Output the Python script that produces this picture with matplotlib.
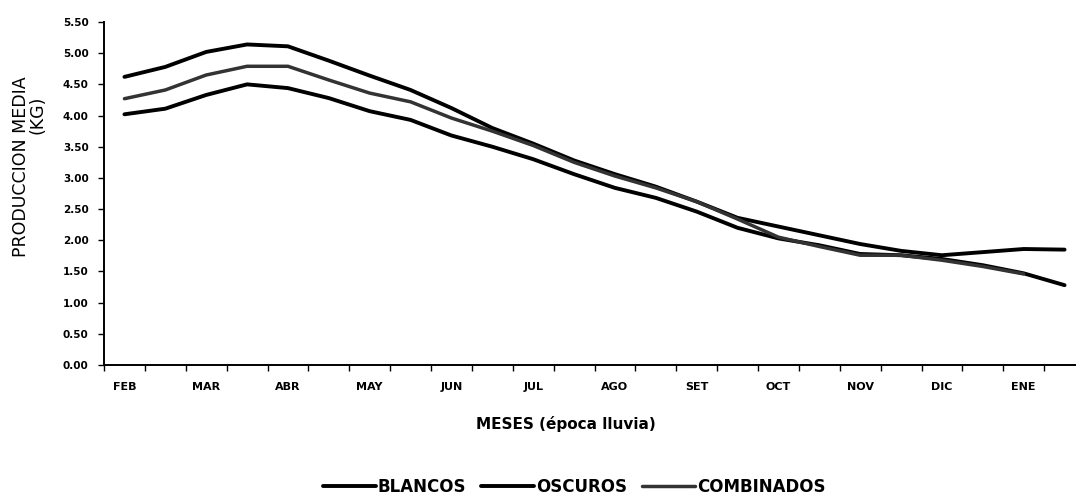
import numpy as np
import matplotlib
matplotlib.use("Agg")
import matplotlib.pyplot as plt
from matplotlib.ticker import FixedLocator, FuncFormatter

# Half-month sampling points across the rainy season (FEB .. ENE)
meses = ["FEB", "MAR", "ABR", "MAY", "JUN", "JUL", "AGO", "SET", "OCT", "NOV", "DIC", "ENE"]

blancos = [4.62, 4.78, 5.02, 5.14, 5.11, 4.88, 4.64, 4.41, 4.12, 3.80, 3.55, 3.28,
           3.06, 2.86, 2.62, 2.36, 2.22, 2.08, 1.94, 1.83, 1.76, 1.81, 1.86, 1.85]
oscuros = [4.02, 4.11, 4.33, 4.50, 4.44, 4.28, 4.07, 3.93, 3.68, 3.50, 3.30, 3.06,
           2.84, 2.68, 2.46, 2.20, 2.03, 1.92, 1.78, 1.76, 1.70, 1.60, 1.47, 1.28]
combinados = [4.27, 4.41, 4.65, 4.79, 4.79, 4.57, 4.36, 4.22, 3.96, 3.75, 3.52, 3.25,
              3.03, 2.84, 2.62, 2.34, 2.05, 1.90, 1.76, 1.76, 1.68, 1.58, 1.46]

y_ticks = [0.0, 0.5, 1.0, 1.5, 2.0, 2.5, 3.0, 3.5, 4.0, 4.5, 5.0, 5.5]

plt.rcParams["font.family"] = ["DejaVu Sans"]

W, H = 1076, 499
fig = plt.figure(figsize=(W / 100, H / 100), dpi=100)
fig.patch.set_facecolor("white")

# axes: left spine at x=104px, baseline at y=365px, top at y=22px,
# category axis runs slightly past the right edge of the figure
left, right = 104, 1085
bottom, top = 365, 22
ax = fig.add_axes([left / W, 1 - bottom / H, (right - left) / W, (bottom - top) / H])

n = len(blancos)
ax.plot(np.arange(len(blancos)), blancos, color="black", lw=2.8,
        solid_capstyle="round", solid_joinstyle="round", label="BLANCOS")
ax.plot(np.arange(len(oscuros)), oscuros, color="black", lw=2.8,
        solid_capstyle="round", solid_joinstyle="round", label="OSCUROS")
ax.plot(np.arange(len(combinados)), combinados, color="#333333", lw=2.5,
        solid_capstyle="round", solid_joinstyle="round", label="COMBINADOS")

ax.set_xlim(-0.5, n - 0.5)
ax.set_ylim(0, 5.5)

for s in ["top", "right"]:
    ax.spines[s].set_visible(False)
ax.spines["left"].set_linewidth(1.4)
ax.spines["bottom"].set_linewidth(1.4)

# y axis
ax.yaxis.set_major_locator(FixedLocator(y_ticks))
ax.yaxis.set_major_formatter(FuncFormatter(lambda v, p: f"{v:.2f}"))
ax.tick_params(axis="y", direction="out", length=4, width=1, pad=7,
               labelsize=7.5)
for lab in ax.get_yticklabels():
    lab.set_fontweight("bold")

# x axis: tick marks at category boundaries, month names every two categories
ax.xaxis.set_major_locator(FixedLocator(np.arange(-0.5, n, 1.0)))
ax.xaxis.set_major_formatter(FuncFormatter(lambda v, p: ""))
ax.xaxis.set_minor_locator(FixedLocator(np.arange(0, n, 2)))
ax.xaxis.set_minor_formatter(FuncFormatter(
    lambda v, p: meses[int(round(v)) // 2] if int(round(v)) // 2 < len(meses) else ""))
ax.tick_params(axis="x", which="major", direction="out", length=4.5, width=1)
ax.tick_params(axis="x", which="minor", length=0, pad=12, labelsize=8)
for lab in ax.xaxis.get_minorticklabels():
    lab.set_fontweight("bold")

# axis titles
fig.text(21 / W, 1 - 167 / H, "PRODUCCION MEDIA", rotation=90, ha="center",
         va="center", fontsize=12.5)
fig.text(37 / W, 1 - 115 / H, "(KG)", rotation=90, ha="center", va="center",
         fontsize=12.5)
fig.text(566 / W, 1 - 424 / H, "MESES (época lluvia)", ha="center", va="center",
         fontsize=11, fontweight="bold")

leg = fig.legend(loc="center", bbox_to_anchor=(574 / W, 1 - 487 / H), ncol=3,
                 frameon=False, handlelength=3.2, handletextpad=0.1,
                 columnspacing=0.9, prop={"size": 12, "weight": "bold"})

fig.savefig("out.png", dpi=100, facecolor="white")
